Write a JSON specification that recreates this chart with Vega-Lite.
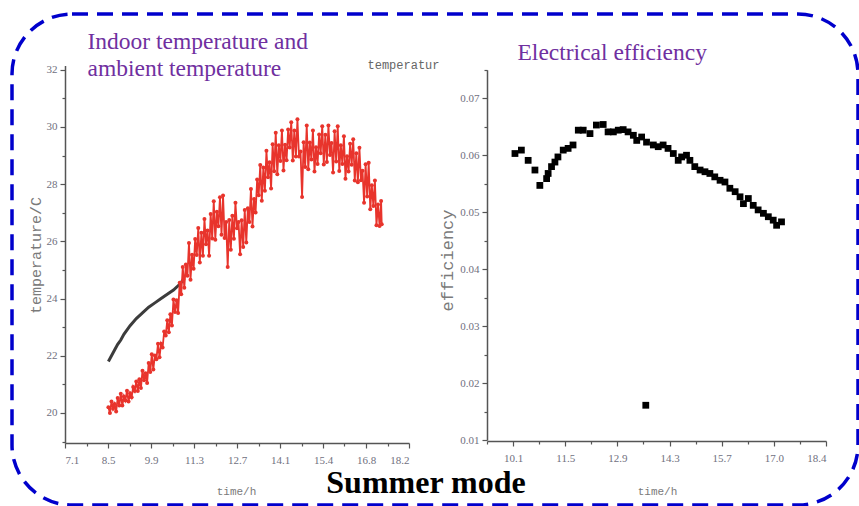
{
  "$schema": "https://vega.github.io/schema/vega-lite/v6.json",
  "width": 846,
  "height": 491,
  "autosize": {"type": "none"},
  "padding": {"left": 12, "top": 14, "right": 1, "bottom": 1},
  "background": "white",
  "title": {"text": "Summer mode", "orient": "bottom", "anchor": "middle", "frame": "group", "offset": -37, "dx": -9, "font": "Liberation Serif", "fontSize": 32, "fontWeight": "bold", "color": "#000000"},
  "datasets": {
    "indoor": [
      {"t":8.5,"T":21.8},{"t":8.6,"T":22.0},{"t":8.7,"T":22.2},{"t":8.8,"T":22.4},{"t":8.9,"T":22.55},{"t":9.0,"T":22.75},{"t":9.2,"T":23.05},{"t":9.4,"T":23.3},{"t":9.6,"T":23.5},{"t":9.8,"T":23.7},{"t":10.0,"T":23.85},{"t":10.2,"T":24.0},{"t":10.4,"T":24.15},{"t":10.6,"T":24.3},{"t":10.8,"T":24.5},{"t":10.95,"T":24.7}
    ],
    "ambient": [
      {"t":8.50,"T":20.20},{"t":8.55,"T":20.00},{"t":8.60,"T":20.40},{"t":8.65,"T":20.15},{"t":8.70,"T":20.31},{"t":8.75,"T":20.05},{"t":8.80,"T":20.52},{"t":8.85,"T":20.26},{"t":8.90,"T":20.67},{"t":8.95,"T":20.26},
      {"t":9.00,"T":20.58},{"t":9.05,"T":20.44},{"t":9.10,"T":20.78},{"t":9.15,"T":20.40},{"t":9.20,"T":20.69},{"t":9.25,"T":20.55},{"t":9.30,"T":20.91},{"t":9.35,"T":20.77},{"t":9.40,"T":21.10},{"t":9.45,"T":20.77},
      {"t":9.50,"T":21.18},{"t":9.55,"T":20.87},{"t":9.60,"T":21.48},{"t":9.65,"T":21.14},{"t":9.70,"T":21.39},{"t":9.75,"T":21.05},{"t":9.80,"T":21.75},{"t":9.85,"T":21.43},{"t":9.90,"T":22.05},{"t":9.95,"T":21.52},
      {"t":10.00,"T":22.01},{"t":10.05,"T":21.88},{"t":10.10,"T":22.42},{"t":10.15,"T":21.95},{"t":10.20,"T":22.42},{"t":10.25,"T":22.29},{"t":10.30,"T":22.85},{"t":10.35,"T":22.71},{"t":10.40,"T":23.24},{"t":10.45,"T":22.82},
      {"t":10.50,"T":23.45},{"t":10.55,"T":23.06},{"t":10.60,"T":23.97},{"t":10.65,"T":23.53},{"t":10.70,"T":23.94},{"t":10.75,"T":23.50},{"t":10.80,"T":24.55},{"t":10.85,"T":24.15},{"t":10.90,"T":25.10},{"t":10.95,"T":24.38},
      {"t":11.00,"T":25.19},{"t":11.05,"T":24.80},{"t":11.10,"T":25.94},{"t":11.15,"T":24.66},{"t":11.20,"T":25.53},{"t":11.25,"T":25.04},{"t":11.30,"T":26.08},{"t":11.35,"T":25.52},{"t":11.40,"T":26.47},{"t":11.45,"T":25.26},
      {"t":11.50,"T":26.30},{"t":11.55,"T":25.50},{"t":11.60,"T":26.78},{"t":11.65,"T":25.90},{"t":11.70,"T":26.38},{"t":11.75,"T":25.50},{"t":11.80,"T":26.96},{"t":11.85,"T":26.10},{"t":11.90,"T":27.40},{"t":11.95,"T":26.06},
      {"t":12.00,"T":27.04},{"t":12.05,"T":26.53},{"t":12.10,"T":27.54},{"t":12.15,"T":26.23},{"t":12.20,"T":27.60},{"t":12.25,"T":26.12},{"t":12.30,"T":26.68},{"t":12.35,"T":25.10},{"t":12.40,"T":26.75},{"t":12.45,"T":25.71},
      {"t":12.50,"T":26.90},{"t":12.55,"T":26.09},{"t":12.60,"T":27.35},{"t":12.65,"T":26.46},{"t":12.70,"T":26.68},{"t":12.75,"T":25.55},{"t":12.80,"T":26.74},{"t":12.85,"T":25.80},{"t":12.90,"T":27.10},{"t":12.95,"T":25.96},
      {"t":13.00,"T":27.16},{"t":13.05,"T":26.68},{"t":13.10,"T":27.83},{"t":13.15,"T":26.52},{"t":13.20,"T":27.48},{"t":13.25,"T":27.01},{"t":13.30,"T":28.16},{"t":13.35,"T":27.61},{"t":13.40,"T":28.67},{"t":13.45,"T":27.42},
      {"t":13.50,"T":28.58},{"t":13.55,"T":27.77},{"t":13.60,"T":29.17},{"t":13.65,"T":28.24},{"t":13.70,"T":28.77},{"t":13.75,"T":27.85},{"t":13.80,"T":29.40},{"t":13.85,"T":28.45},{"t":13.90,"T":29.80},{"t":13.95,"T":28.35},
      {"t":14.00,"T":29.36},{"t":14.05,"T":28.81},{"t":14.10,"T":29.88},{"t":14.15,"T":28.48},{"t":14.20,"T":29.38},{"t":14.25,"T":28.84},{"t":14.30,"T":29.91},{"t":14.35,"T":29.28},{"t":14.40,"T":30.17},{"t":14.45,"T":28.83},
      {"t":14.50,"T":29.88},{"t":14.55,"T":28.97},{"t":14.60,"T":30.27},{"t":14.65,"T":28.97},{"t":14.70,"T":29.14},{"t":14.75,"T":27.55},{"t":14.80,"T":29.47},{"t":14.85,"T":28.60},{"t":14.90,"T":30.05},{"t":14.95,"T":28.52},
      {"t":15.00,"T":29.46},{"t":15.05,"T":28.86},{"t":15.10,"T":29.88},{"t":15.15,"T":28.44},{"t":15.20,"T":29.29},{"t":15.25,"T":28.71},{"t":15.30,"T":29.74},{"t":15.35,"T":29.08},{"t":15.40,"T":30.03},{"t":15.45,"T":28.69},
      {"t":15.50,"T":29.73},{"t":15.55,"T":28.78},{"t":15.60,"T":30.05},{"t":15.65,"T":29.02},{"t":15.70,"T":29.44},{"t":15.75,"T":28.41},{"t":15.80,"T":29.85},{"t":15.85,"T":28.79},{"t":15.90,"T":30.03},{"t":15.95,"T":28.46},
      {"t":16.00,"T":29.36},{"t":16.05,"T":28.71},{"t":16.10,"T":29.68},{"t":16.15,"T":28.19},{"t":16.20,"T":28.98},{"t":16.25,"T":28.44},{"t":16.30,"T":29.41},{"t":16.35,"T":28.68},{"t":16.40,"T":29.57},{"t":16.45,"T":28.13},
      {"t":16.50,"T":29.08},{"t":16.55,"T":28.07},{"t":16.60,"T":29.27},{"t":16.65,"T":28.14},{"t":16.70,"T":28.47},{"t":16.75,"T":27.35},{"t":16.80,"T":28.70},{"t":16.85,"T":27.57},{"t":16.90,"T":28.75},{"t":16.95,"T":27.12},
      {"t":17.00,"T":27.96},{"t":17.05,"T":27.24},{"t":17.10,"T":28.13},{"t":17.15,"T":26.56},{"t":17.20,"T":27.29},{"t":17.25,"T":26.54},{"t":17.30,"T":27.41},{"t":17.32,"T":26.60}
    ],
    "efficiency": [
      {"t":10.15,"eff":0.0603},{"t":10.32,"eff":0.0609},{"t":10.50,"eff":0.0591},{"t":10.68,"eff":0.0574},{"t":10.81,"eff":0.0547},{"t":10.99,"eff":0.0559},{"t":11.03,"eff":0.0568},{"t":11.12,"eff":0.0580},{"t":11.21,"eff":0.0588},{"t":11.29,"eff":0.0597},
      {"t":11.43,"eff":0.0609},{"t":11.56,"eff":0.0612},{"t":11.69,"eff":0.0618},{"t":11.83,"eff":0.0644},{"t":11.96,"eff":0.0644},{"t":12.14,"eff":0.0638},{"t":12.31,"eff":0.0653},{"t":12.49,"eff":0.0654},{"t":12.62,"eff":0.0641},{"t":12.76,"eff":0.0641},
      {"t":12.89,"eff":0.0644},{"t":13.02,"eff":0.0645},{"t":13.15,"eff":0.0641},{"t":13.29,"eff":0.0635},{"t":13.38,"eff":0.0626},{"t":13.51,"eff":0.0632},{"t":13.64,"eff":0.0623},{"t":13.82,"eff":0.0618},{"t":13.95,"eff":0.0615},{"t":14.08,"eff":0.0618},
      {"t":14.21,"eff":0.0612},{"t":14.35,"eff":0.0603},{"t":14.48,"eff":0.0591},{"t":14.57,"eff":0.0597},{"t":14.70,"eff":0.0600},{"t":14.79,"eff":0.0591},{"t":14.92,"eff":0.0580},{"t":15.06,"eff":0.0574},{"t":15.19,"eff":0.0571},{"t":15.32,"eff":0.0568},
      {"t":15.45,"eff":0.0562},{"t":15.59,"eff":0.0556},{"t":15.72,"eff":0.0553},{"t":15.85,"eff":0.0542},{"t":15.99,"eff":0.0536},{"t":16.12,"eff":0.0527},{"t":16.21,"eff":0.0515},{"t":16.34,"eff":0.0524},{"t":16.47,"eff":0.0512},{"t":16.60,"eff":0.0504},
      {"t":16.74,"eff":0.0498},{"t":16.87,"eff":0.0492},{"t":17.00,"eff":0.0486},{"t":17.09,"eff":0.0477},{"t":17.22,"eff":0.0483},{"t":13.62,"eff":0.0161}
    ]
  },
  "layer": [
    {
      "data": {"name": "indoor"},
      "mark": {"type": "line", "color": "#3c3c3c", "strokeWidth": 3},
      "encoding": {
        "x": {"field": "t", "type": "quantitative",
          "scale": {"domain": [7.1, 18.2], "range": [53, 397], "nice": false, "zero": false},
          "axis": {"orient": "bottom", "offset": -62,
            "values": [7.1, 7.79375, 8.4875, 9.18125, 9.875, 10.56875, 11.2625, 11.95625, 12.65, 13.34375, 14.0375, 14.73125, 15.425, 16.11875, 16.8125, 17.50625, 18.2],
            "labelExpr": "['7.1','','8.5','','9.9','','11.3','','12.7','','14.1','','15.4','','16.8','','18.2'][round((datum.value-7.1)/0.69375)]",
            "tickSize": {"condition": {"test": "round((datum.value-7.1)/0.69375) % 2 == 0", "value": 5}, "value": 3},
            "labelPadding": 6,
            "title": "time/h", "titleX": 224, "titleY": 48, "titleAlign": "center", "titleBaseline": "middle", "titleFontSize": 11}},
        "y": {"field": "T", "type": "quantitative",
          "scale": {"domain": [18.95, 32.15], "range": [429, 51.5], "nice": false, "zero": false},
          "axis": {"orient": "left", "offset": -53,
            "values": [19, 20, 21, 22, 23, 24, 25, 26, 27, 28, 29, 30, 31, 32],
            "labelExpr": "datum.value % 2 == 0 ? datum.label : ''",
            "tickSize": {"condition": {"test": "datum.value % 2 == 0", "value": 5}, "value": 3},
            "title": "temperature/C", "titleX": -30, "titleY": 241, "titleAngle": -90, "titleAlign": "center", "titleBaseline": "middle", "titleFontSize": 15}}
      }
    },
    {
      "data": {"name": "ambient"},
      "mark": {"type": "line", "color": "#e8342c", "strokeWidth": 1.8, "point": {"filled": true, "size": 16, "color": "#e8342c"}},
      "encoding": {
        "x": {"field": "t", "type": "quantitative",
          "scale": {"domain": [7.1, 18.2], "range": [53, 397], "nice": false, "zero": false},
          "axis": {"orient": "top", "offset": 0, "labels": false, "ticks": false, "domain": false,
            "title": ["Indoor temperature and", "ambient temperature"],
            "titleFont": "Liberation Serif", "titleFontSize": 23.5, "titleColor": "#7030a0", "titleFontWeight": "normal",
            "titleX": 75, "titleY": 34, "titleAlign": "left", "titleBaseline": "alphabetic", "titleLineHeight": 27}},
        "y": {"field": "T", "type": "quantitative",
          "scale": {"domain": [18.95, 32.15], "range": [429, 51.5], "nice": false, "zero": false},
          "axis": {"orient": "right", "offset": 0, "labels": false, "ticks": false, "domain": false,
            "title": "temperatur", "titleAngle": 0, "titleX": -491, "titleY": 54, "titleAlign": "left", "titleBaseline": "alphabetic", "titleFontSize": 12, "titleColor": "#666666"}}
      }
    },
    {
      "data": {"name": "efficiency"},
      "transform": [{"filter": "datum.eff > 0.03"}],
      "mark": {"type": "square", "filled": true, "color": "#000000", "size": 46, "opacity": 1},
      "encoding": {
        "x": {"field": "t", "type": "quantitative",
          "scale": {"domain": [9.40833, 18.4], "range": [475, 814], "nice": false, "zero": false},
          "axis": {"orient": "bottom", "offset": -64,
            "values": [9.40833, 10.1, 10.79167, 11.48333, 12.175, 12.86667, 13.55833, 14.25, 14.94167, 15.63333, 16.325, 17.01667, 17.70833, 18.4],
            "labelExpr": "['','10.1','','11.5','','12.9','','14.3','','15.7','','17.0','','18.4'][round((datum.value-9.40833)/0.691667)]",
            "tickSize": {"condition": {"test": "round((datum.value-9.40833)/0.691667) % 2 == 1", "value": 5}, "value": 3},
            "labelPadding": 6,
            "title": "time/h", "titleX": 645, "titleY": 50, "titleAlign": "center", "titleBaseline": "middle", "titleFontSize": 11}},
        "y": {"field": "eff", "type": "quantitative",
          "scale": {"domain": [0.01, 0.075], "range": [426, 55.8], "nice": false, "zero": false},
          "axis": {"orient": "left", "offset": -475,
            "values": [0.01, 0.015, 0.02, 0.025, 0.03, 0.035, 0.04, 0.045, 0.05, 0.055, 0.06, 0.065, 0.07, 0.075],
            "labelExpr": "round(datum.value*200) % 2 == 0 ? format(datum.value, '.2f') : ''",
            "tickSize": {"condition": {"test": "round(datum.value*200) % 2 == 0", "value": 5}, "value": 3},
            "title": "efficiency", "titleX": -40, "titleY": 246, "titleAngle": -90, "titleAlign": "center", "titleBaseline": "middle", "titleFontSize": 17}}
      }
    },
    {
      "data": {"name": "efficiency"},
      "transform": [{"filter": "datum.eff <= 0.03"}],
      "mark": {"type": "square", "filled": true, "color": "#000000", "size": 46, "opacity": 1},
      "encoding": {
        "x": {"field": "t", "type": "quantitative",
          "scale": {"domain": [9.40833, 18.4], "range": [475, 814], "nice": false, "zero": false},
          "axis": {"orient": "top", "offset": 0, "labels": false, "ticks": false, "domain": false,
            "title": "Electrical efficiency",
            "titleFont": "Liberation Serif", "titleFontSize": 23.5, "titleColor": "#7030a0", "titleFontWeight": "normal",
            "titleX": 505, "titleY": 45, "titleAlign": "left", "titleBaseline": "alphabetic"}},
        "y": {"field": "eff", "type": "quantitative",
          "scale": {"domain": [0.01, 0.075], "range": [426, 55.8], "nice": false, "zero": false},
          "axis": null}
      }
    }
  ],
  "resolve": {"scale": {"x": "independent", "y": "independent"}, "axis": {"x": "independent", "y": "independent"}},
  "config": {
    "font": "Liberation Serif",
    "view": {"stroke": "#0000cc", "strokeWidth": 3.5, "strokeDash": [16, 9], "cornerRadius": 60, "fill": "white"},
    "axis": {"grid": false, "labelFont": "Liberation Serif", "labelFontSize": 11, "labelColor": "#70707e", "labelPadding": 3,
      "domainColor": "#555555", "domainWidth": 1.5, "tickColor": "#555555", "tickWidth": 1.2,
      "titleFont": "Liberation Mono", "titleFontWeight": "normal", "titleColor": "#7a7a7a", "titleFontSize": 12}
  }
}
